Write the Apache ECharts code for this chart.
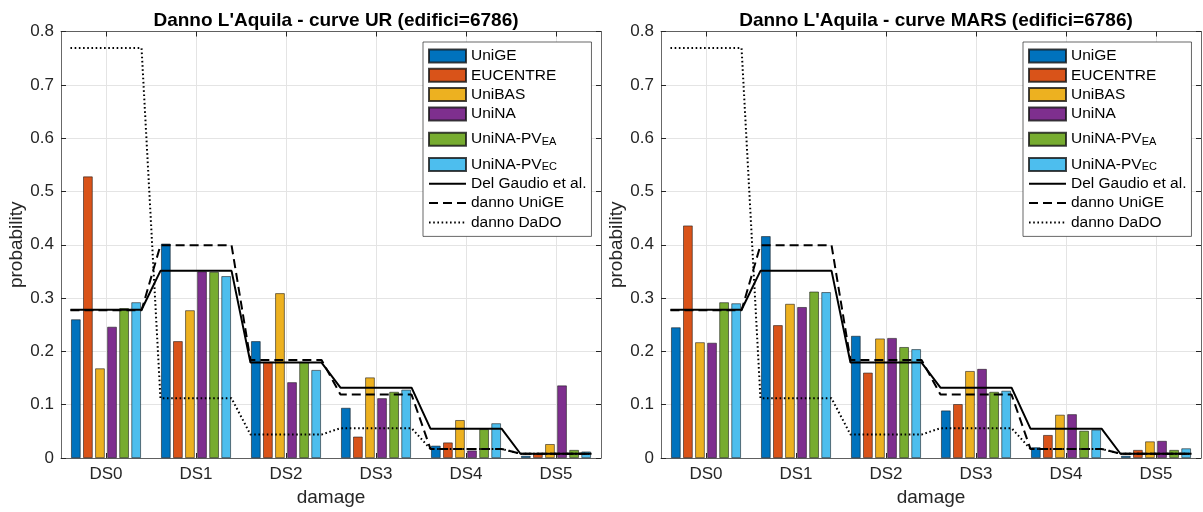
<!DOCTYPE html>
<html>
<head>
<meta charset="utf-8">
<script src="https://cdn.jsdelivr.net/npm/echarts@6/dist/echarts.min.js"></script>
<style>
html,body{margin:0;padding:0;background:#fff;}
#c{width:1203px;height:512px;}
</style>
</head>
<body>
<div id="c"></div>
<script>
// ---- data ----
const categories = ['DS0', 'DS1', 'DS2', 'DS3', 'DS4', 'DS5'];
const barNames = ['UniGE', 'EUCENTRE', 'UniBAS', 'UniNA', 'UniNA-PV_EA', 'UniNA-PV_EC'];
const lineNames = ['Del Gaudio et al.', 'danno UniGE', 'danno DaDO'];
const titles = ["Danno L'Aquila - curve UR (edifici=6786)", "Danno L'Aquila - curve MARS (edifici=6786)"];

// curve UR
const urUniGE    = [0.260, 0.402, 0.219, 0.094, 0.023, 0.004];
const urEUCENTRE = [0.528, 0.219, 0.180, 0.040, 0.029, 0.008];
const urUniBAS   = [0.168, 0.277, 0.309, 0.151, 0.071, 0.026];
const urUniNA    = [0.246, 0.350, 0.142, 0.112, 0.014, 0.136];
const urPVEA     = [0.281, 0.349, 0.180, 0.124, 0.054, 0.015];
const urPVEC     = [0.292, 0.341, 0.165, 0.128, 0.065, 0.012];

// curve MARS
const marsUniGE    = [0.245, 0.416, 0.229, 0.089, 0.020, 0.004];
const marsEUCENTRE = [0.436, 0.249, 0.160, 0.101, 0.043, 0.015];
const marsUniBAS   = [0.217, 0.289, 0.224, 0.163, 0.081, 0.031];
const marsUniNA    = [0.216, 0.283, 0.225, 0.167, 0.082, 0.032];
const marsPVEA     = [0.292, 0.312, 0.208, 0.124, 0.051, 0.015];
const marsPVEC     = [0.290, 0.311, 0.204, 0.126, 0.053, 0.018];

// reference distributions (same on both panels)
const delGaudio  = [0.278, 0.351, 0.179, 0.132, 0.055, 0.008];
const dannoUniGE = [0.277, 0.399, 0.184, 0.119, 0.017, 0.008];
const dannoDaDO  = [0.769, 0.112, 0.044, 0.056, 0.017, 0.008];

const yTicks = ['0', '0.1', '0.2', '0.3', '0.4', '0.5', '0.6', '0.7', '0.8'];

// ---- styles ----
const FONT = "'Liberation Sans', Arial, Helvetica, sans-serif";
const TXT = '#262626';
const colors = ['#0072BD', '#D95319', '#EDB120', '#7E2F8E', '#77AC30', '#4DBEEE'];
const lineTypes = [
  {type: 'solid', width: 2},
  {type: [9, 5], width: 2},
  {type: [1.6, 2.6], width: 2}
];
const halfW = 0.395;

const panels = [
  {bars: [urUniGE, urEUCENTRE, urUniBAS, urUniNA, urPVEA, urPVEC], left: 61},
  {bars: [marsUniGE, marsEUCENTRE, marsUniBAS, marsUniNA, marsPVEA, marsPVEC], left: 661}
];
const lines = [delGaudio, dannoUniGE, dannoDaDO];
const GW = 540, GT = 31.5, GH = 426.5;

function stepData(vals) {
  const out = [];
  vals.forEach((v, i) => { out.push([i - halfW, v]); out.push([i + halfW, v]); });
  return out;
}

const grid = [], xAxis = [], yAxis = [], series = [], title = [], legend = [];
panels.forEach((p, k) => {
  grid.push({left: p.left, top: GT, width: GW, height: GH, containLabel: false});
  title.push({
    text: titles[k], left: p.left + GW / 2, top: 6, textAlign: 'center',
    textStyle: {fontFamily: FONT, fontSize: 19, fontWeight: 'bold', color: '#000'}
  });
  // bottom category axis
  xAxis.push({
    type: 'category', gridIndex: k, data: categories, position: 'bottom',
    name: 'damage', nameLocation: 'middle', nameGap: 30,
    nameTextStyle: {fontFamily: FONT, fontSize: 19, color: TXT},
    axisLine: {show: true, onZero: false, lineStyle: {color: TXT, width: 0.7}},
    axisTick: {show: true, inside: true, alignWithLabel: true, length: 5, lineStyle: {color: TXT}},
    axisLabel: {fontFamily: FONT, fontSize: 17, color: TXT, margin: 8},
    splitLine: {show: true, alignWithLabel: true, lineStyle: {color: '#e4e4e4', width: 1}}
  });
  // top category axis (box)
  xAxis.push({
    type: 'category', gridIndex: k, data: categories, position: 'top',
    axisLine: {show: true, onZero: false, lineStyle: {color: TXT, width: 0.7}},
    axisTick: {show: true, inside: true, alignWithLabel: true, length: 5, lineStyle: {color: TXT}},
    axisLabel: {show: false}, splitLine: {show: false}
  });
  // value axis for step lines
  xAxis.push({
    type: 'value', gridIndex: k, min: -0.5, max: 5.5, show: false,
    axisLine: {onZero: false}, splitLine: {show: false}
  });
  yAxis.push({
    type: 'value', gridIndex: k, min: 0, max: 0.8, interval: 0.1, position: 'left',
    name: 'probability', nameLocation: 'middle', nameGap: 32, nameRotate: 90,
    nameTextStyle: {fontFamily: FONT, fontSize: 19, color: TXT},
    axisLine: {show: true, onZero: false, lineStyle: {color: TXT, width: 0.7}},
    axisTick: {show: true, inside: true, length: 5, lineStyle: {color: TXT}},
    axisLabel: {fontFamily: FONT, fontSize: 17, color: TXT, margin: 7,
      formatter: (v) => yTicks[Math.round(v * 10)]},
    splitLine: {show: true, lineStyle: {color: '#e4e4e4', width: 1}}
  });
  yAxis.push({
    type: 'value', gridIndex: k, min: 0, max: 0.8, interval: 0.1, position: 'right',
    axisLine: {show: true, onZero: false, lineStyle: {color: TXT, width: 0.7}},
    axisTick: {show: true, inside: true, length: 5, lineStyle: {color: TXT}},
    axisLabel: {show: false}, splitLine: {show: false}
  });
  p.bars.forEach((vals, j) => {
    series.push({
      type: 'bar', name: barNames[j], xAxisIndex: 3 * k, yAxisIndex: 2 * k,
      data: vals, barWidth: 9.5, barGap: '27%',
      itemStyle: {color: colors[j], borderColor: 'rgba(20,20,20,0.8)', borderWidth: 0.7},
      emphasis: {disabled: true}, animation: false, z: 2
    });
  });
  lines.forEach((vals, j) => {
    series.push({
      type: 'line', name: lineNames[j], xAxisIndex: 3 * k + 2, yAxisIndex: 2 * k,
      data: stepData(vals), symbol: 'none', showSymbol: false,
      itemStyle: {color: '#000'},
      lineStyle: {color: '#000', width: lineTypes[j].width, type: lineTypes[j].type},
      emphasis: {disabled: true}, animation: false, z: 5
    });
  });
  legend.push({
    orient: 'vertical', left: p.left + 362, top: 42,
    itemWidth: 37, itemHeight: 13, itemGap: 3.3,
    padding: [6, 5, 6, 5],
    backgroundColor: '#fff', borderColor: TXT, borderWidth: 0.7,
    data: barNames.map(n => ({name: n, icon: 'rect'}))
      .concat(lineNames.map(n => ({name: n, itemStyle: {opacity: 0}}))),
    formatter: (name) => {
      const m = name.match(/^(.*)_(\w+)$/);
      return m ? '{a|' + m[1] + '}{s|' + m[2] + '}' : name;
    },
    textStyle: {
      fontFamily: FONT, fontSize: 15.5, color: '#000', lineHeight: 16,
      rich: {
        a: {fontFamily: FONT, fontSize: 15.5, color: '#000', lineHeight: 16, verticalAlign: 'top'},
        s: {fontFamily: FONT, fontSize: 11, color: '#000', lineHeight: 12, verticalAlign: 'bottom', padding: [11, 0, 0, 0]}
      }
    },
    selectedMode: false
  });
});

const chart = echarts.init(document.getElementById('c'), null, {renderer: 'canvas'});
chart.setOption({
  backgroundColor: '#fff',
  animation: false,
  title, grid, xAxis, yAxis, legend, series
});
</script>
</body>
</html>
